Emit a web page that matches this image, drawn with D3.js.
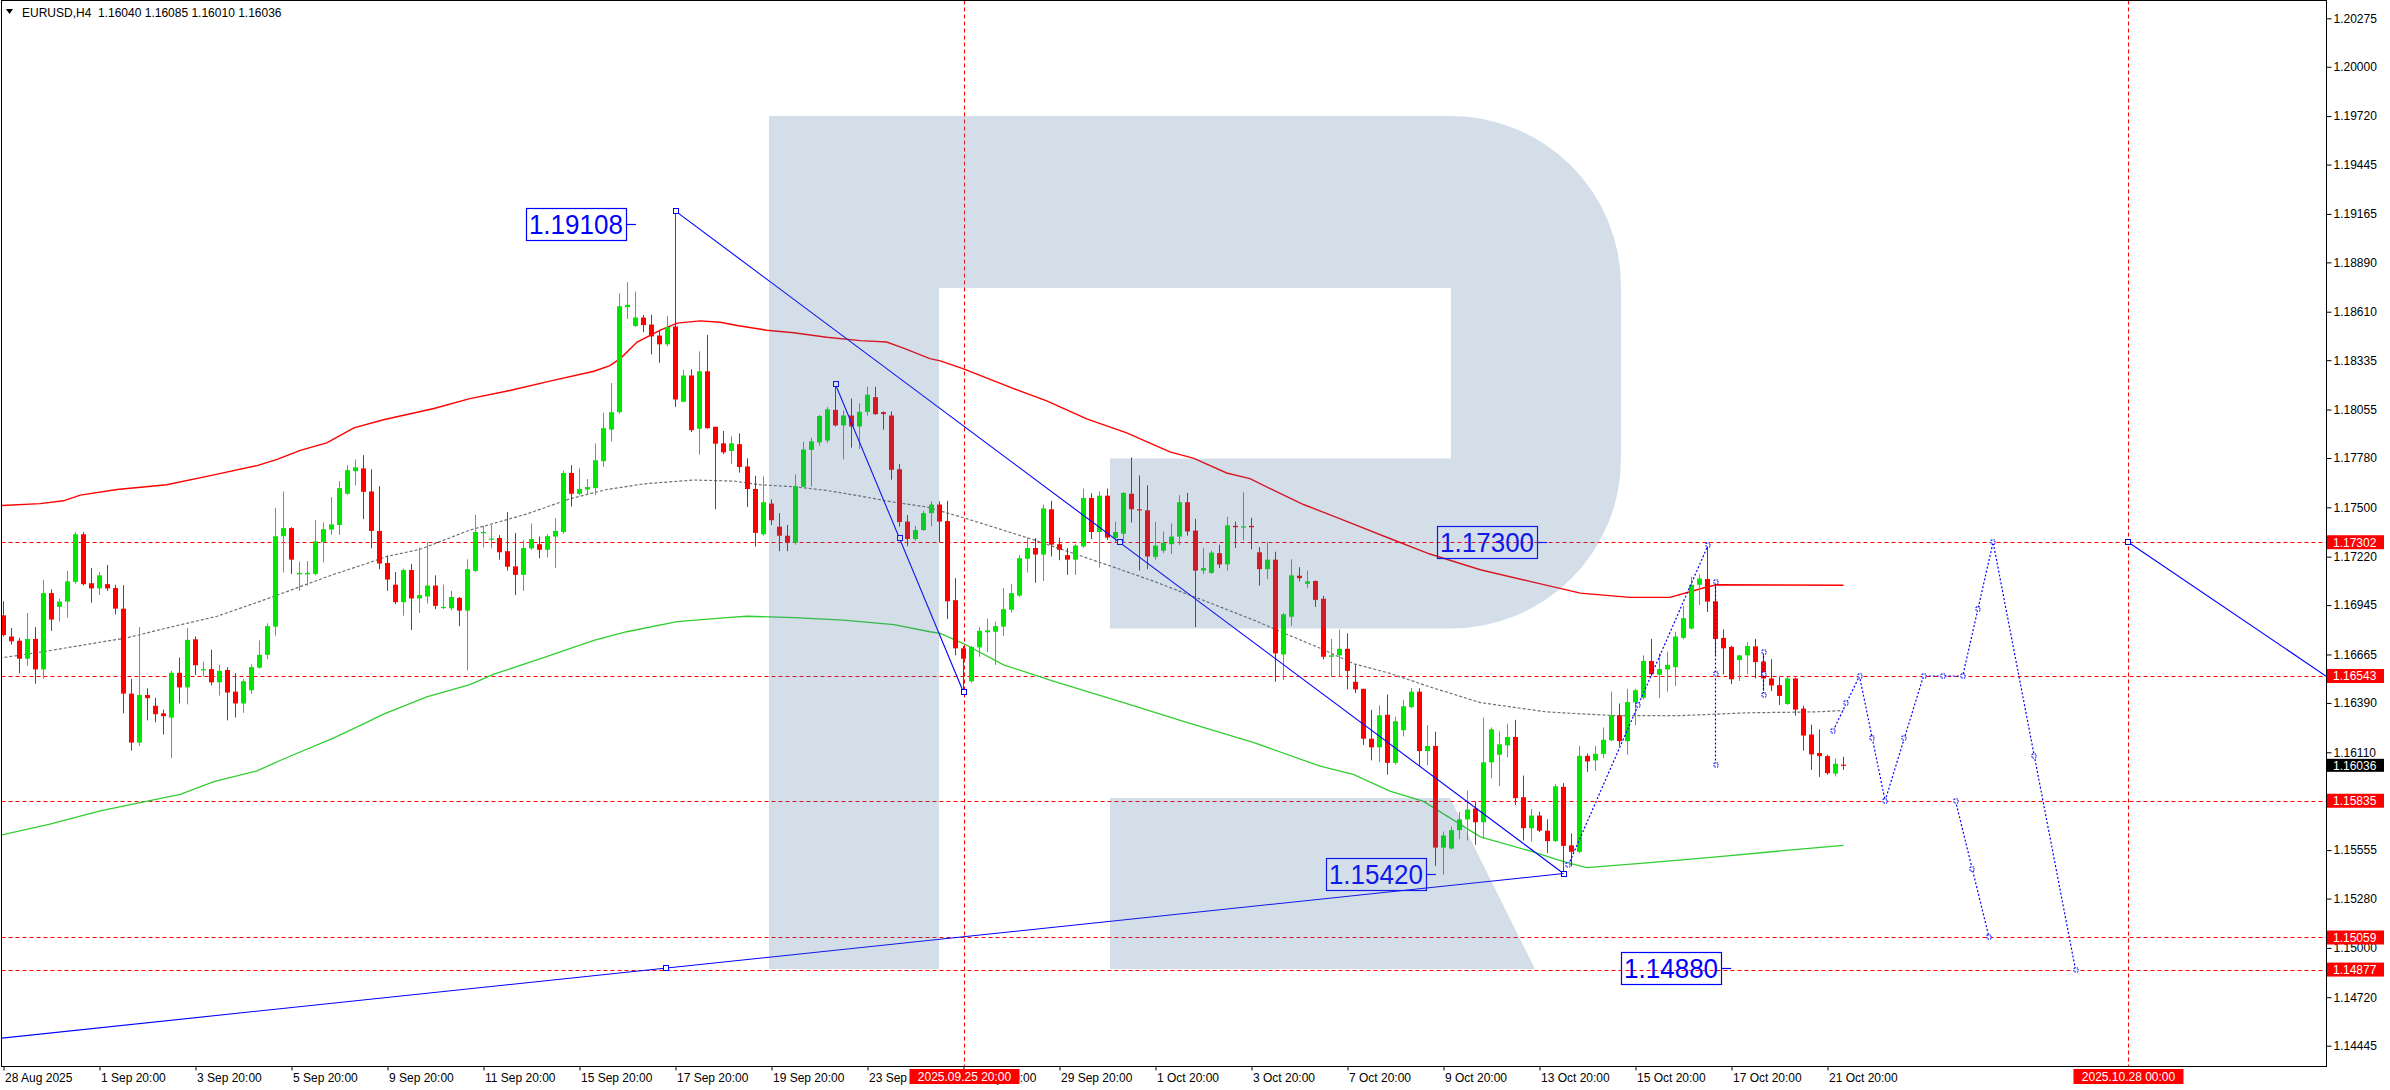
<!DOCTYPE html>
<html><head><meta charset="utf-8">
<script src="https://cdn.jsdelivr.net/npm/d3@7"></script>
<style>html,body{margin:0;padding:0;background:#fff;overflow:hidden}svg{display:block}</style>
</head><body><svg id="c" width="2390" height="1090"></svg>
<script>
// ---------- DATA ----------
const symbolTitle = "EURUSD,H4";
const headerValues = ["1.16040","1.16085","1.16010","1.16036"];

const opens = [1.16887,1.16767,1.16743,1.16641,1.16753,1.16580,1.17013,1.16935,1.16965,1.17077,
1.17347,1.17069,1.17040,1.17064,1.17042,1.16925,1.16443,1.16165,1.16435,1.16374,
1.16331,1.16307,1.16561,1.16478,1.16751,1.16577,1.16582,1.16507,1.16577,1.16454,
1.16387,1.16462,1.16590,1.16663,1.16823,1.17336,1.17382,1.17120,1.17120,1.17122,
1.17302,1.17374,1.17400,1.17577,1.17705,1.17721,1.17590,1.17366,1.17184,1.17061,
1.16962,1.17144,1.16983,1.16994,1.17056,1.16930,1.16927,1.16986,1.16914,1.17139,
1.17355,1.17318,1.17326,1.17251,1.17165,1.17117,1.17267,1.17291,1.17259,1.17334,
1.17360,1.17695,1.17577,1.17601,1.17609,1.17762,1.17941,1.18040,1.18636,1.18529,
1.18577,1.18537,1.18475,1.18425,1.18526,1.18099,1.18248,1.17946,1.18272,1.17957,
1.17863,1.17820,1.17858,1.17732,1.17604,1.17347,1.17521,1.17390,1.17339,1.17299,
1.17617,1.17826,1.17869,1.17879,1.18053,1.17965,1.18021,1.17959,1.18042,1.18125,
1.18040,1.18021,1.17716,1.17419,1.17320,1.17371,1.17467,1.17516,1.17422,1.16973,
1.16700,1.16513,1.16705,1.16791,1.16794,1.16823,1.16919,1.16999,1.17208,1.17269,
1.17232,1.17489,1.17291,1.17229,1.17203,1.17278,1.17553,1.17360,1.17566,1.17326,
1.17350,1.17577,1.17489,1.17483,1.17219,1.17254,1.17291,1.17334,1.17529,1.17368,
1.17141,1.17128,1.17240,1.17176,1.17395,1.17385,1.17395,1.17245,1.17149,1.17203,
1.16665,1.16879,1.17112,1.17066,1.17082,1.16981,1.16652,1.16660,1.16697,1.16510,
1.16470,1.16187,1.16138,1.16323,1.16050,1.16235,1.16366,1.16454,1.16117,1.16146,
1.15569,1.15564,1.15668,1.15729,1.15791,1.15713,1.16053,1.16096,1.16149,1.16197,
1.15855,1.15679,1.15751,1.15665,1.15606,1.15914,1.15582,1.15545,1.16090,1.16064,
1.16101,1.16178,1.16320,1.16173,1.16392,1.16419,1.16628,1.16550,1.16580,1.16593,
1.16759,1.16812,1.17061,1.17093,1.16967,1.16759,1.16708,1.16633,1.16660,1.16711,
1.16625,1.16529,1.16491,1.16384,1.16529,1.16358,1.16211,1.16106,1.16088,1.15989,
1.16040];
const highs = [1.16967,1.16815,1.16759,1.16901,1.16820,1.17088,1.17034,1.16981,1.17139,1.17360,
1.17360,1.17155,1.17133,1.17173,1.17061,1.17058,1.16526,1.16820,1.16473,1.16419,
1.16352,1.16572,1.16647,1.16815,1.16767,1.16625,1.16692,1.16606,1.16593,1.16558,
1.16526,1.16609,1.16745,1.16842,1.17497,1.17590,1.17387,1.17192,1.17195,1.17427,
1.17414,1.17558,1.17649,1.17740,1.17772,1.17796,1.17716,1.17620,1.17227,1.17133,
1.17152,1.17179,1.17272,1.17304,1.17114,1.17061,1.17026,1.16991,1.17205,1.17457,
1.17395,1.17400,1.17342,1.17473,1.17355,1.17315,1.17409,1.17334,1.17347,1.17438,
1.17708,1.17740,1.17721,1.17660,1.17863,1.18037,1.18205,1.18714,1.18778,1.18724,
1.18591,1.18593,1.18505,1.18585,1.19181,1.18280,1.18283,1.18385,1.18478,1.17957,
1.17933,1.17903,1.17919,1.17778,1.17679,1.17676,1.17545,1.17467,1.17400,1.17687,
1.17871,1.17895,1.18024,1.18069,1.18197,1.18050,1.18117,1.18090,1.18184,1.18184,
1.18045,1.18045,1.17746,1.17457,1.17395,1.17481,1.17534,1.17534,1.17537,1.17098,
1.16713,1.16713,1.16820,1.16868,1.16852,1.17042,1.17064,1.17229,1.17328,1.17326,
1.17516,1.17537,1.17328,1.17269,1.17291,1.17606,1.17580,1.17590,1.17606,1.17419,
1.17585,1.17783,1.17681,1.17625,1.17417,1.17363,1.17409,1.17569,1.17582,1.17435,
1.17269,1.17254,1.17288,1.17446,1.17419,1.17585,1.17441,1.17275,1.17302,1.17248,
1.16901,1.17205,1.17160,1.17141,1.17085,1.16997,1.16753,1.16807,1.16785,1.16606,
1.16470,1.16350,1.16376,1.16438,1.16312,1.16406,1.16475,1.16473,1.16264,1.16227,
1.15660,1.15689,1.15772,1.15892,1.15831,1.16307,1.16251,1.16229,1.16272,1.16294,
1.15978,1.15788,1.15772,1.15729,1.15930,1.15935,1.15649,1.16146,1.16104,1.16146,
1.16251,1.16454,1.16387,1.16470,1.16470,1.16660,1.16753,1.16671,1.16681,1.16794,
1.16941,1.17106,1.17120,1.17286,1.17066,1.16807,1.16713,1.16663,1.16735,1.16753,
1.16673,1.16638,1.16537,1.16540,1.16534,1.16374,1.16267,1.16240,1.16096,1.16074,
1.16085];
const lows = [1.16767,1.16721,1.16558,1.16601,1.16499,1.16526,1.16799,1.16852,1.16874,1.17066,
1.17056,1.16959,1.17002,1.17026,1.16893,1.16331,1.16120,1.16146,1.16291,1.16280,
1.16211,1.16077,1.16387,1.16382,1.16548,1.16540,1.16491,1.16432,1.16291,1.16307,
1.16334,1.16441,1.16585,1.16638,1.16772,1.17130,1.17122,1.17026,1.17056,1.17114,
1.17187,1.17344,1.17344,1.17572,1.17625,1.17433,1.17267,1.17149,1.17026,1.16951,
1.16885,1.16804,1.16901,1.16954,1.16922,1.16922,1.16914,1.16826,1.16574,1.17133,
1.17272,1.17267,1.17203,1.17141,1.17002,1.17026,1.17259,1.17211,1.17216,1.17155,
1.17350,1.17505,1.17569,1.17572,1.17569,1.17729,1.17874,1.18032,1.18569,1.18524,
1.18494,1.18368,1.18320,1.18414,1.18069,1.18099,1.17927,1.17799,1.17946,1.17489,
1.17802,1.17746,1.17697,1.17502,1.17278,1.17339,1.17400,1.17251,1.17251,1.17288,
1.17615,1.17617,1.17850,1.17866,1.17959,1.17772,1.17839,1.17831,1.18021,1.18024,
1.17941,1.17657,1.17390,1.17280,1.17310,1.17366,1.17392,1.17302,1.16866,1.16660,
1.16451,1.16505,1.16652,1.16679,1.16606,1.16770,1.16903,1.16991,1.17130,1.17072,
1.17082,1.17221,1.17200,1.17117,1.17117,1.17269,1.17320,1.17157,1.17315,1.17302,
1.17302,1.17414,1.17141,1.17149,1.17203,1.17240,1.17235,1.17286,1.17339,1.16820,
1.17122,1.17122,1.17155,1.17141,1.17269,1.17312,1.17262,1.17056,1.17093,1.16510,
1.16521,1.16828,1.17080,1.17042,1.16935,1.16638,1.16537,1.16540,1.16467,1.16446,
1.16152,1.16064,1.16053,1.15983,1.16040,1.16200,1.16360,1.16031,1.16037,1.15465,
1.15416,1.15558,1.15617,1.15609,1.15585,1.15620,1.15962,1.15917,1.16082,1.15810,
1.15609,1.15604,1.15657,1.15539,1.15601,1.15430,1.15462,1.15537,1.15999,1.16005,
1.16077,1.16173,1.16146,1.16096,1.16264,1.16411,1.16542,1.16417,1.16454,1.16486,
1.16751,1.16807,1.16946,1.16906,1.16660,1.16553,1.16497,1.16515,1.16553,1.16529,
1.16459,1.16457,1.16379,1.16379,1.16318,1.16120,1.16010,1.15970,1.15983,1.15973,
1.16010];
const closes = [1.16775,1.16740,1.16641,1.16753,1.16580,1.17013,1.16863,1.16965,1.17080,1.17347,
1.17064,1.17040,1.17114,1.17040,1.16925,1.16443,1.16165,1.16435,1.16417,1.16326,
1.16315,1.16561,1.16478,1.16748,1.16604,1.16582,1.16507,1.16572,1.16449,1.16387,
1.16513,1.16593,1.16663,1.16826,1.17336,1.17382,1.17203,1.17128,1.17128,1.17307,
1.17376,1.17403,1.17609,1.17711,1.17727,1.17588,1.17366,1.17181,1.17090,1.16962,
1.17144,1.16983,1.17002,1.17056,1.16941,1.16935,1.16991,1.16914,1.17149,1.17360,
1.17360,1.17323,1.17245,1.17163,1.17117,1.17269,1.17320,1.17259,1.17336,1.17366,
1.17695,1.17577,1.17604,1.17615,1.17767,1.17949,1.18040,1.18641,1.18649,1.18577,
1.18534,1.18470,1.18425,1.18524,1.18112,1.18248,1.17938,1.18272,1.17949,1.17861,
1.17812,1.17863,1.17729,1.17604,1.17355,1.17529,1.17427,1.17339,1.17299,1.17620,
1.17828,1.17874,1.18018,1.18056,1.17965,1.18021,1.17959,1.18042,1.18139,1.18029,
1.18029,1.17713,1.17417,1.17320,1.17371,1.17467,1.17516,1.17419,1.16967,1.16700,
1.16641,1.16708,1.16799,1.16802,1.16826,1.16922,1.17013,1.17211,1.17269,1.17232,
1.17494,1.17288,1.17259,1.17203,1.17283,1.17553,1.17360,1.17566,1.17328,1.17360,
1.17582,1.17489,1.17483,1.17221,1.17283,1.17299,1.17334,1.17529,1.17363,1.17141,
1.17155,1.17243,1.17176,1.17398,1.17387,1.17392,1.17387,1.17149,1.17203,1.16671,
1.16893,1.17114,1.17098,1.17080,1.16975,1.16652,1.16660,1.16697,1.16572,1.16467,
1.16187,1.16138,1.16320,1.16050,1.16286,1.16371,1.16454,1.16117,1.16146,1.15569,
1.15638,1.15668,1.15729,1.15785,1.15713,1.16053,1.16240,1.16155,1.16197,1.15850,
1.15679,1.15751,1.15665,1.15606,1.15917,1.15579,1.15545,1.16090,1.16058,1.16101,
1.16181,1.16320,1.16173,1.16395,1.16462,1.16628,1.16553,1.16582,1.16606,1.16767,
1.16871,1.17061,1.17096,1.16965,1.16753,1.16700,1.16524,1.16660,1.16713,1.16622,
1.16529,1.16489,1.16430,1.16529,1.16352,1.16205,1.16098,1.16088,1.15991,1.16045,
1.16036];

const timeLabels = ["28 Aug 2025","1 Sep 20:00","3 Sep 20:00","5 Sep 20:00","9 Sep 20:00","11 Sep 20:00",
"15 Sep 20:00","17 Sep 20:00","19 Sep 20:00","23 Sep 20:00","25 Sep 20:00","29 Sep 20:00","1 Oct 20:00",
"3 Oct 20:00","7 Oct 20:00","9 Oct 20:00","13 Oct 20:00","15 Oct 20:00","17 Oct 20:00","21 Oct 20:00"];
const timeLabelBars = [0,12,24,36,48,60,72,84,96,108,120,132,144,156,168,180,192,204,216,228];

const priceTicks = [1.20275,1.20000,1.19720,1.19445,1.19165,1.18890,1.18610,1.18335,1.18055,1.17780,
1.17500,1.17220,1.16945,1.16665,1.16390,1.16110,1.15835,1.15555,1.15280,1.15000,1.14720,1.14445];

const levelPrices = [1.17302,1.16543,1.15835,1.15059,1.14877];
const currentPrice = 1.16036;
const markerBars = [120, 265.6];
const markerLabels = ["2025.09.25 20:00","2025.10.28 00:00"];

// moving averages (bar index, value)
const maRedBars = [-0.5,4.6,7.5,9.6,14.2,20.4,26.3,31.7,34.2,37.1,40.4,43.8,47.5,53.8,58.3,63.3,68.3,73.8,75.8,77.1,
79.2,82.1,84.2,87.1,89.6,91.7,95.4,98.8,102.9,107.1,110.4,112.5,115.8,117.1,120,125.4,130.4,135.4,140.4,145.8,
148.8,152.9,155.8,158.8,162.5,167.1,173.3,178.3,184.6,190.8,197.1,203.3,208.3,210.8,212.9,214.2,230];
const maRedVals = [1.17510,1.17521,1.17537,1.17569,1.17601,1.17628,1.17684,1.17737,1.17772,1.17823,
1.17866,1.17951,1.17997,1.18061,1.18117,1.18163,1.18216,1.18272,1.18304,1.18344,
1.18438,1.18505,1.18545,1.18558,1.18550,1.18532,1.18505,1.18491,1.18465,1.18446,
1.18438,1.18403,1.18344,1.18331,1.18286,1.18189,1.18104,1.18002,1.17922,1.17815,
1.17778,1.17695,1.17663,1.17596,1.17516,1.17435,1.17323,1.17235,1.17146,1.17080,
1.17013,1.16989,1.16989,1.17021,1.17048,1.17061,1.17058];
const maGrayBars = [-0.5,5,12.1,15.4,20.4,26.7,31.3,34.6,37.1,41.3,45.4,47.9,52.1,58.3,61.3,65.4,70.8,75.4,80,86.3,
91.3,94.6,98.8,102.9,107.1,111.3,115.4,120,128.3,138.3,143.8,149.2,156.3,160.4,164.6,168.8,173.3,178.3,184.6,192.9,
201.3,209.6,217.9,226.3,230];
const maGrayVals = [1.16644,1.16681,1.16735,1.16759,1.16815,1.16882,1.16954,1.17008,1.17050,1.17120,
1.17181,1.17221,1.17262,1.17371,1.17409,1.17462,1.17548,1.17601,1.17633,1.17655,
1.17649,1.17628,1.17617,1.17596,1.17564,1.17529,1.17502,1.17441,1.17323,1.17168,
1.17080,1.16986,1.16860,1.16780,1.16700,1.16612,1.16558,1.16481,1.16392,1.16339,
1.16318,1.16318,1.16334,1.16339,1.16347];
const maGreenBars = [-0.5,5.8,12.1,18.3,22.1,26.3,31.7,35,41.3,45.4,47.5,52.9,58.3,61.3,67.5,73.8,77.9,84.2,90.4,92.9,
98.8,105,111.3,115.8,117.1,120,125,131.3,139.6,147.9,156.3,164.6,168.8,173.3,177.5,184.6,190.8,195,197.9,205.4,
213.8,222.1,230];
const maGreenVals = [1.15638,1.15702,1.15777,1.15836,1.15871,1.15943,1.16005,1.16072,1.16192,1.16280,
1.16326,1.16424,1.16494,1.16553,1.16647,1.16745,1.16794,1.16852,1.16874,1.16882,
1.16874,1.16860,1.16834,1.16794,1.16785,1.16727,1.16606,1.16513,1.16398,1.16280,
1.16165,1.16031,1.15983,1.15890,1.15831,1.15630,1.15550,1.15489,1.15456,1.15483,
1.15515,1.15550,1.15582];

// blue trend lines: [startBar, endBar], [startVal, endVal]
const trendBars = [[84,195],[104,120],[-29.5,195],[265.6,290.3]];
const trendVals = [[1.19181,1.15422],[1.18197,1.16451],[1.14348,1.15422],[1.17302,1.16543]];
const trendAnchors = [[0,0.5,1],[0,0.5,1],[0.5],[0]];

// dotted forecast / wave segments
const dotBars = [[195.6,213.1],[214,214],[220,220],[228.7,232,235.2,240,244.9,248.7,259],[244,248.2]];
const dotVals = [[1.15470,1.17288],[1.17074,1.16040],[1.16679,1.16433],
  [1.16232,1.16543,1.15835,1.16543,1.16543,1.17302,1.14877],[1.15835,1.15059]];

// text labels on chart
const noteTexts = ["1.19108","1.17300","1.15420","1.14880"];
const noteBars = [77.8,191.7,177.8,214.7];   // right edge of box
const noteVals = [1.19108,1.17302,1.15422,1.14886];

// ---------- DRAW ----------
const svg = d3.select("#c");
const W = 2390, H = 1090;
const L = 1.5, R = 2326.5, T = 0.5, B = 1066.5;
const FONT = "'Liberation Sans', Arial, sans-serif";

svg.append("rect").attr("width",W).attr("height",H).attr("fill","#fff");

const x = d3.scaleLinear().domain([0,1]).range([3.5,11.5]);
const y = d3.scaleLinear().domain([1.20275,1.14445]).range([18.3,1045.7]);

svg.append("clipPath").attr("id","clip").append("rect")
  .attr("x",L+0.5).attr("y",T+0.5).attr("width",R-L-1).attr("height",B-T-1);
const plot = svg.append("g").attr("clip-path","url(#clip)");

// level lines
plot.selectAll("line.lvl").data(levelPrices).join("line").attr("class","lvl")
  .attr("x1",L).attr("x2",R)
  .attr("y1",d=>Math.round(y(d))+0.5).attr("y2",d=>Math.round(y(d))+0.5)
  .attr("stroke","#ff0000").attr("stroke-width",1).attr("stroke-dasharray","4,3");
// vertical marker lines
plot.selectAll("line.vm").data(markerBars).join("line").attr("class","vm")
  .attr("x1",d=>Math.round(x(d))+0.5).attr("x2",d=>Math.round(x(d))+0.5)
  .attr("y1",T).attr("y2",B)
  .attr("stroke","#ff0000").attr("stroke-width",1).attr("stroke-dasharray","4,3");

// moving averages
const lineGen = d3.line().x(d=>x(d[0])).y(d=>y(d[1]));
plot.append("path").datum(d3.zip(maRedBars,maRedVals)).attr("d",lineGen)
  .attr("fill","none").attr("stroke","#ff0000").attr("stroke-width",1.4);
plot.append("path").datum(d3.zip(maGreenBars,maGreenVals)).attr("d",lineGen)
  .attr("fill","none").attr("stroke","#32cd32").attr("stroke-width",1.3);
plot.append("path").datum(d3.zip(maGrayBars,maGrayVals)).attr("d",lineGen)
  .attr("fill","none").attr("stroke","#707070").attr("stroke-width",1.2).attr("stroke-dasharray","3,2");

// candles
const bars = opens.map((o,i)=>({i,o,h:highs[i],l:lows[i],c:closes[i]}));
const BULL = "#00e600", BEAR = "#ff0000";
const cg = plot.append("g");
cg.selectAll("line.w").data(bars).join("line").attr("class","w")
  .attr("x1",d=>x(d.i)).attr("x2",d=>x(d.i))
  .attr("y1",d=>y(d.h)).attr("y2",d=>y(d.l))
  .attr("stroke",d=>d.c>=d.o?BULL:BEAR).attr("stroke-width",1);
cg.selectAll("rect.b").data(bars).join("rect").attr("class","b")
  .attr("x",d=>x(d.i)-2.5).attr("width",5)
  .attr("y",d=>Math.min(y(d.o),y(d.c)))
  .attr("height",d=>Math.max(1.2,Math.abs(y(d.o)-y(d.c))))
  .attr("fill",d=>d.c>=d.o?BULL:BEAR);

// trend lines
const blue = "#0000ff";
const tg = plot.append("g");
trendBars.forEach((tb,k)=>{
  const tv = trendVals[k];
  tg.append("line").attr("x1",x(tb[0])).attr("y1",y(tv[0])).attr("x2",x(tb[1])).attr("y2",y(tv[1]))
    .attr("stroke",blue).attr("stroke-width",1.1);
  trendAnchors[k].forEach(f=>{
    const bx = x(tb[0]+(tb[1]-tb[0])*f), by = y(tv[0]+(tv[1]-tv[0])*f);
    tg.append("rect").attr("x",Math.round(bx)-2.5).attr("y",Math.round(by)-2.5).attr("width",5).attr("height",5)
      .attr("fill","#fff").attr("stroke",blue).attr("stroke-width",1);
  });
});
// dotted segments
dotBars.forEach((db,k)=>{
  const pts = d3.zip(db,dotVals[k]);
  tg.append("path").datum(pts).attr("d",lineGen).attr("fill","none")
    .attr("stroke",blue).attr("stroke-width",1.2).attr("stroke-dasharray","2,2");
  const anchors = [];
  for(let j=0;j<pts.length;j++){
    anchors.push(pts[j]);
    if(j<pts.length-1) anchors.push([(pts[j][0]+pts[j+1][0])/2,(pts[j][1]+pts[j+1][1])/2]);
  }
  anchors.forEach(a=>{
    tg.append("rect").attr("x",Math.round(x(a[0]))-2).attr("y",Math.round(y(a[1]))-2).attr("width",4).attr("height",4)
      .attr("fill","#fff").attr("stroke",blue).attr("stroke-width",1).attr("stroke-dasharray","1.5,1");
  });
});

// text notes
noteTexts.forEach((t,k)=>{
  const rx = x(noteBars[k]), cy = y(noteVals[k]);
  tg.append("rect").attr("x",Math.round(rx)-100+0.5).attr("y",Math.round(cy)-16+0.5).attr("width",100).attr("height",32)
    .attr("fill","none").attr("stroke",blue).attr("stroke-width",1.2);
  tg.append("line").attr("x1",rx).attr("x2",rx+10).attr("y1",Math.round(cy)+0.5).attr("y2",Math.round(cy)+0.5)
    .attr("stroke",blue).attr("stroke-width",1.2);
  tg.append("text").attr("x",rx-50).attr("y",cy+10).attr("text-anchor","middle")
    .attr("font-family",FONT).attr("font-size",27).attr("fill",blue)
    .attr("textLength",94).attr("lengthAdjust","spacingAndGlyphs").text(t);
});

// watermark logo (semi-transparent overlay)
const wm = plot.append("g").attr("fill","rgb(66,110,158)").attr("fill-opacity",0.227);
wm.append("path").attr("d",
  "M769,116 H1451 A170,170 0 0 1 1621,286 V458.5 A170,170 0 0 1 1451,628.5 H1110 V458.5 H1451 V288 H939 V969 H769 Z");
wm.append("path").attr("d","M1110,798 H1450 L1535,969 H1110 Z");

// frame
svg.append("rect").attr("x",L).attr("y",T).attr("width",R-L).attr("height",B-T)
  .attr("fill","none").attr("stroke","#000").attr("stroke-width",1);

// right price axis
const ya = svg.append("g").attr("transform",`translate(${R},0)`)
  .call(d3.axisRight(y).tickValues(priceTicks).tickSize(5).tickPadding(2).tickFormat(d3.format(".5f")));
ya.select(".domain").remove();
ya.selectAll("text").attr("font-family",FONT).attr("font-size",12).attr("fill","#000");
ya.selectAll("line").attr("stroke","#000");

// level price boxes
const lb = svg.append("g");
levelPrices.forEach(p=>{
  const cy = y(p);
  lb.append("rect").attr("x",2327).attr("y",cy-7).attr("width",57).attr("height",14).attr("fill","#ff0000");
  lb.append("text").attr("x",2333).attr("y",cy+4.3).attr("font-family",FONT).attr("font-size",12)
    .attr("fill","#fff").text(p.toFixed(5));
});
{
  const cy = y(currentPrice);
  lb.append("rect").attr("x",2327).attr("y",cy-6.5).attr("width",57).attr("height",13).attr("fill","#000");
  lb.append("text").attr("x",2333).attr("y",cy+4.3).attr("font-family",FONT).attr("font-size",12)
    .attr("fill","#fff").text(currentPrice.toFixed(5));
}

// bottom time axis
const xa = svg.append("g").attr("transform",`translate(0,${B})`)
  .call(d3.axisBottom(x).tickValues(timeLabelBars).tickSize(4).tickFormat((d,i)=>timeLabels[i]));
xa.select(".domain").remove();
xa.selectAll("line").attr("stroke","#000");
xa.selectAll("text").attr("text-anchor","start").attr("dx",1).attr("y",0).attr("dy",15.5)
  .attr("font-family",FONT).attr("font-size",12).attr("fill","#000");

// time marker boxes
markerBars.forEach((b,k)=>{
  const cx = Math.round(x(b))+0.5;
  svg.append("rect").attr("x",cx-55).attr("y",1069).attr("width",110).attr("height",15).attr("fill","#ff0000");
  svg.append("text").attr("x",cx).attr("y",1081).attr("text-anchor","middle").attr("font-family",FONT)
    .attr("font-size",12).attr("fill","#fff").text(markerLabels[k]);
});

// header
svg.append("path").attr("d","M6,9 L13,9 L9.5,14 Z").attr("fill","#000");
svg.append("text").attr("x",22).attr("y",16.5).attr("font-family",FONT).attr("font-size",12).attr("fill","#000")
  .attr("xml:space","preserve").text(symbolTitle + "  " + headerValues.join(" "));
</script></body></html>
